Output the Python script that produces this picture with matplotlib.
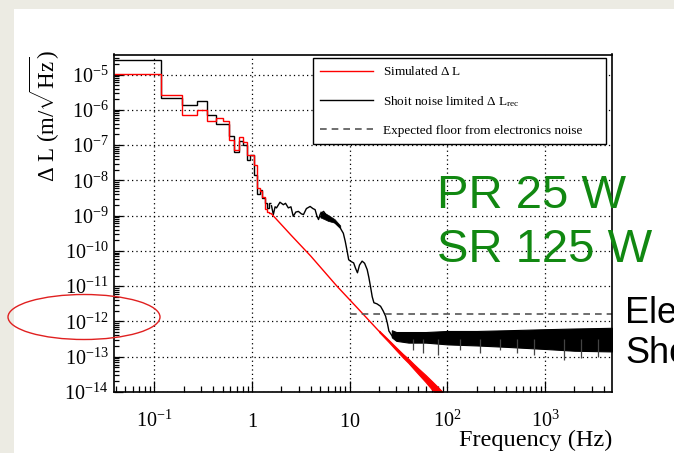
import matplotlib.pyplot as plt
import numpy as np
from matplotlib.lines import Line2D
from matplotlib.patches import Ellipse, Rectangle
from matplotlib.ticker import LogLocator, NullFormatter

plt.rcParams['font.family'] = ['Liberation Serif', 'DejaVu Serif']
plt.rcParams['mathtext.fontset'] = 'custom'
plt.rcParams['mathtext.rm'] = 'Liberation Serif'
plt.rcParams['mathtext.it'] = 'Liberation Serif:italic'
plt.rcParams['mathtext.bf'] = 'Liberation Serif:bold'

# low frequency bins (Hz), edges of the coarse histogram
bin_edges = [0.0385, 0.1155, 0.1925, 0.2695, 0.3465, 0.4235, 0.5005, 0.5775,
             0.6545, 0.7315, 0.8085, 0.8855, 0.9625, 1.0395, 1.1165, 1.1935,
             1.2705, 1.3475, 1.4245, 1.5015, 1.5785]
# log10 of Delta L in each bin
sim_bins = [-4.98, -5.58, -6.16, -6.01, -6.33, -6.23, -6.33, -6.85, -7.13, -6.78,
            -6.91, -7.27, -7.27, -7.56, -8.22, -8.31, -8.46, -8.81, -8.89, -8.92]
rec_bins = [-4.60, -5.67, -5.85, -5.74, -6.16, -6.39, -6.39, -6.73, -7.20, -6.88,
            -7.01, -7.42, -7.27, -7.84, -8.39, -8.27, -8.50, -8.65, -8.79, -8.65]

# shot noise limited curve above the bins
rec_freq = [1.58, 1.65, 1.72, 1.78, 1.93, 2.09, 2.2, 2.35, 2.5, 2.64, 2.8, 2.98,
            3.2, 3.36, 3.6, 3.93, 4.2, 4.42, 4.6, 4.79, 5.0, 5.4, 5.8, 6.08, 6.6,
            7.1, 8.0, 8.6, 9.0, 9.4, 9.76, 10.3, 10.97, 11.5, 12.0, 12.6, 13.4,
            14.2, 15.1, 15.7, 16.3, 17.0, 17.7, 19.0, 20.7, 22.0, 23.3, 24.3,
            25.2, 27.3]
rec_log = [-8.72, -8.97, -8.75, -8.78, -8.62, -8.69, -8.65, -8.78, -8.75, -9.02,
           -8.90, -8.88, -8.95, -8.97, -8.80, -8.74, -8.80, -8.83, -9.00, -9.11,
           -8.95, -8.88, -9.00, -9.07, -9.12, -9.21, -9.35, -9.50, -9.73, -10.0,
           -10.25, -10.30, -10.34, -10.50, -10.62, -10.40, -10.29, -10.35,
           -10.53, -10.75, -11.0, -11.3, -11.47, -11.5, -11.57, -11.7, -11.85,
           -12.05, -12.27, -12.42]

# noisy stretch around 5-8 Hz
blob_freq = [5.0, 5.5, 6.0, 7.0, 8.0]
blob_hi = [-8.88, -8.92, -8.98, -9.10, -9.28]
blob_lo = [-9.05, -9.10, -9.15, -9.20, -9.35]

# high frequency shot noise band
band_freq = [27, 30, 40, 60, 100, 200, 400, 1000, 2000, 4860]
band_hi = [-12.25, -12.30, -12.30, -12.30, -12.27, -12.27, -12.25, -12.22,
           -12.20, -12.18]
band_lo = [-12.45, -12.55, -12.60, -12.60, -12.65, -12.68, -12.72, -12.78,
           -12.83, -12.85]
# deepest downward excursions of the band
spike_freq = [44.7, 56.6, 80.7, 135, 217, 349, 519, 770, 1570, 2330, 3470]
spike_low = [-12.81, -12.90, -12.95, -12.81, -12.90, -12.81, -12.90, -12.95,
             -13.10, -13.05, -13.00]

# simulated curve above the bins
sim_freq = [1.58, 2.5, 4.0, 7.4, 12.0, 20.0]
sim_log = [-8.95, -9.55, -10.15, -11.0, -11.62, -12.28]
sim_band_freq = [20, 25, 30, 35, 40, 45, 50, 60, 70, 80, 88]
sim_band_hi = [-12.26, -12.52, -12.74, -12.92, -13.06, -13.20, -13.32, -13.52,
               -13.70, -13.86, -13.98]
sim_band_lo = [-12.30, -12.58, -12.82, -13.02, -13.18, -13.34, -13.48, -13.72,
               -13.94, -14.10, -14.20]

floor_start = 10.0
floor_level = 1.65e-12

x_min, x_max = 0.0385, 4860
y_min, y_max = 1e-14, 3.7e-5

x_ticks = [0.1, 1, 10, 100, 1000]
x_ticklabels = [r'$10^{-1}$', r'$1$', r'$10$', r'$10^{2}$', r'$10^{3}$']
y_exps = list(range(-14, -4))

fig = plt.figure(figsize=(6.74, 4.53), dpi=100)
fig.patch.set_facecolor('white')
# slide background strips
fig.patches.append(Rectangle((0, 0), 14 / 674, 1, transform=fig.transFigure,
                             facecolor='#ecebe3', edgecolor='none', zorder=-5))
fig.patches.append(Rectangle((0, 1 - 9 / 453), 1, 9 / 453, transform=fig.transFigure,
                             facecolor='#ecebe3', edgecolor='none', zorder=-5))

ax = fig.add_axes([114 / 674, 1 - 392 / 453, 498 / 674, 337.5 / 453])
ax.set_xscale('log')
ax.set_yscale('log')

ax.stairs(10 ** np.array(rec_bins), bin_edges, color='black', lw=1.0, baseline=None)
ax.plot(rec_freq, 10 ** np.array(rec_log), color='black', lw=1.0)
ax.fill_between(blob_freq, 10 ** np.array(blob_lo), 10 ** np.array(blob_hi),
                color='black', lw=0.5)
ax.fill_between(band_freq, 10 ** np.array(band_lo), 10 ** np.array(band_hi),
                color='black', lw=0.8)
ax.vlines(spike_freq, 10 ** np.array(spike_low), 10 ** -12.5, color='#444444', lw=0.9)

ax.stairs(10 ** np.array(sim_bins), bin_edges, color='red', lw=1.0, baseline=None)
ax.plot(sim_freq, 10 ** np.array(sim_log), color='red', lw=1.0)
ax.fill_between(sim_band_freq, 10 ** np.array(sim_band_lo), 10 ** np.array(sim_band_hi),
                color='red', lw=0.8)

ax.plot([floor_start, x_max], [floor_level, floor_level], color='#555555',
        lw=1.2, dashes=(4, 3))

ax.set_xlim(x_min, x_max)
ax.set_ylim(y_min, y_max)

ax.set_xticks(x_ticks, x_ticklabels)
ax.set_yticks([10.0 ** e for e in y_exps], [r'$10^{%d}$' % e for e in y_exps])
ax.yaxis.set_minor_locator(LogLocator(base=10, subs=np.arange(2, 10), numticks=30))
ax.xaxis.set_minor_locator(LogLocator(base=10, subs=np.arange(2, 10), numticks=30))
ax.yaxis.set_minor_formatter(NullFormatter())
ax.xaxis.set_minor_formatter(NullFormatter())

ax.tick_params(axis='both', which='both', direction='in', labelsize=14.5, width=0.9)
ax.tick_params(axis='x', which='major', length=8, pad=25)
ax.tick_params(axis='x', which='minor', length=4.3)
ax.tick_params(axis='y', which='major', length=6.5, pad=4)
ax.tick_params(axis='y', which='minor', length=3.6)
for lab in ax.get_xticklabels():
    lab.set_va('baseline')

ax.grid(True, which='major', color='black', lw=0.9, linestyle=(0, (1, 2.5)))
ax.set_axisbelow(True)
for sp in ax.spines.values():
    sp.set_linewidth(1.2)

ax.set_ylabel(r'$\Delta$ L (m/$\sqrt{\rm Hz}$)', fontsize=16.5)
ax.yaxis.set_label_coords(-0.104, 0.816)
ax.set_xlabel('Frequency (Hz)', fontsize=17.5, ha='right', va='baseline')
ax.xaxis.set_label_coords(1.0, -0.16)

handles = [Line2D([], [], color='red', lw=1.0),
           Line2D([], [], color='black', lw=1.0),
           Line2D([], [], color='#555555', lw=1.2, dashes=(4, 3))]
labels = [r'Simulated $\Delta$ L',
          r'Shoit noise limited $\Delta$ L$_{\rm rec}$',
          'Expected floor from electronics noise']
leg = ax.legend(handles, labels, loc='upper left', mode='expand',
                bbox_to_anchor=(0.3996, 0.735, 0.5884, 0.2546),
                borderaxespad=0, fontsize=9.5, handlelength=4.0, handletextpad=0.76,
                labelspacing=1.2, borderpad=0.55, fancybox=False, framealpha=1)
leg.get_frame().set_edgecolor('black')
leg.get_frame().set_linewidth(1.0)

fig.text(437 / 674, 1 - 208 / 453, 'PR 25 W', color='#118811', fontsize=34,
         family='Liberation Sans', va='baseline', ha='left')
fig.text(437 / 674, 1 - 262 / 453, 'SR 125 W', color='#118811', fontsize=34,
         family='Liberation Sans', va='baseline', ha='left')
fig.text(625 / 674, 1 - 323 / 453, 'Ele', color='black', fontsize=26,
         family='Liberation Sans', va='baseline', ha='left')
fig.text(625 / 674, 1 - 363 / 453, 'Sho', color='black', fontsize=26,
         family='Liberation Sans', va='baseline', ha='left')

fig.patches.append(Ellipse((84 / 674, 1 - 317 / 453), 152 / 674, 45 / 453,
                           transform=fig.transFigure, facecolor='none',
                           edgecolor='#e02020', lw=1.0, zorder=10))

fig.savefig('out.png', dpi=100)
